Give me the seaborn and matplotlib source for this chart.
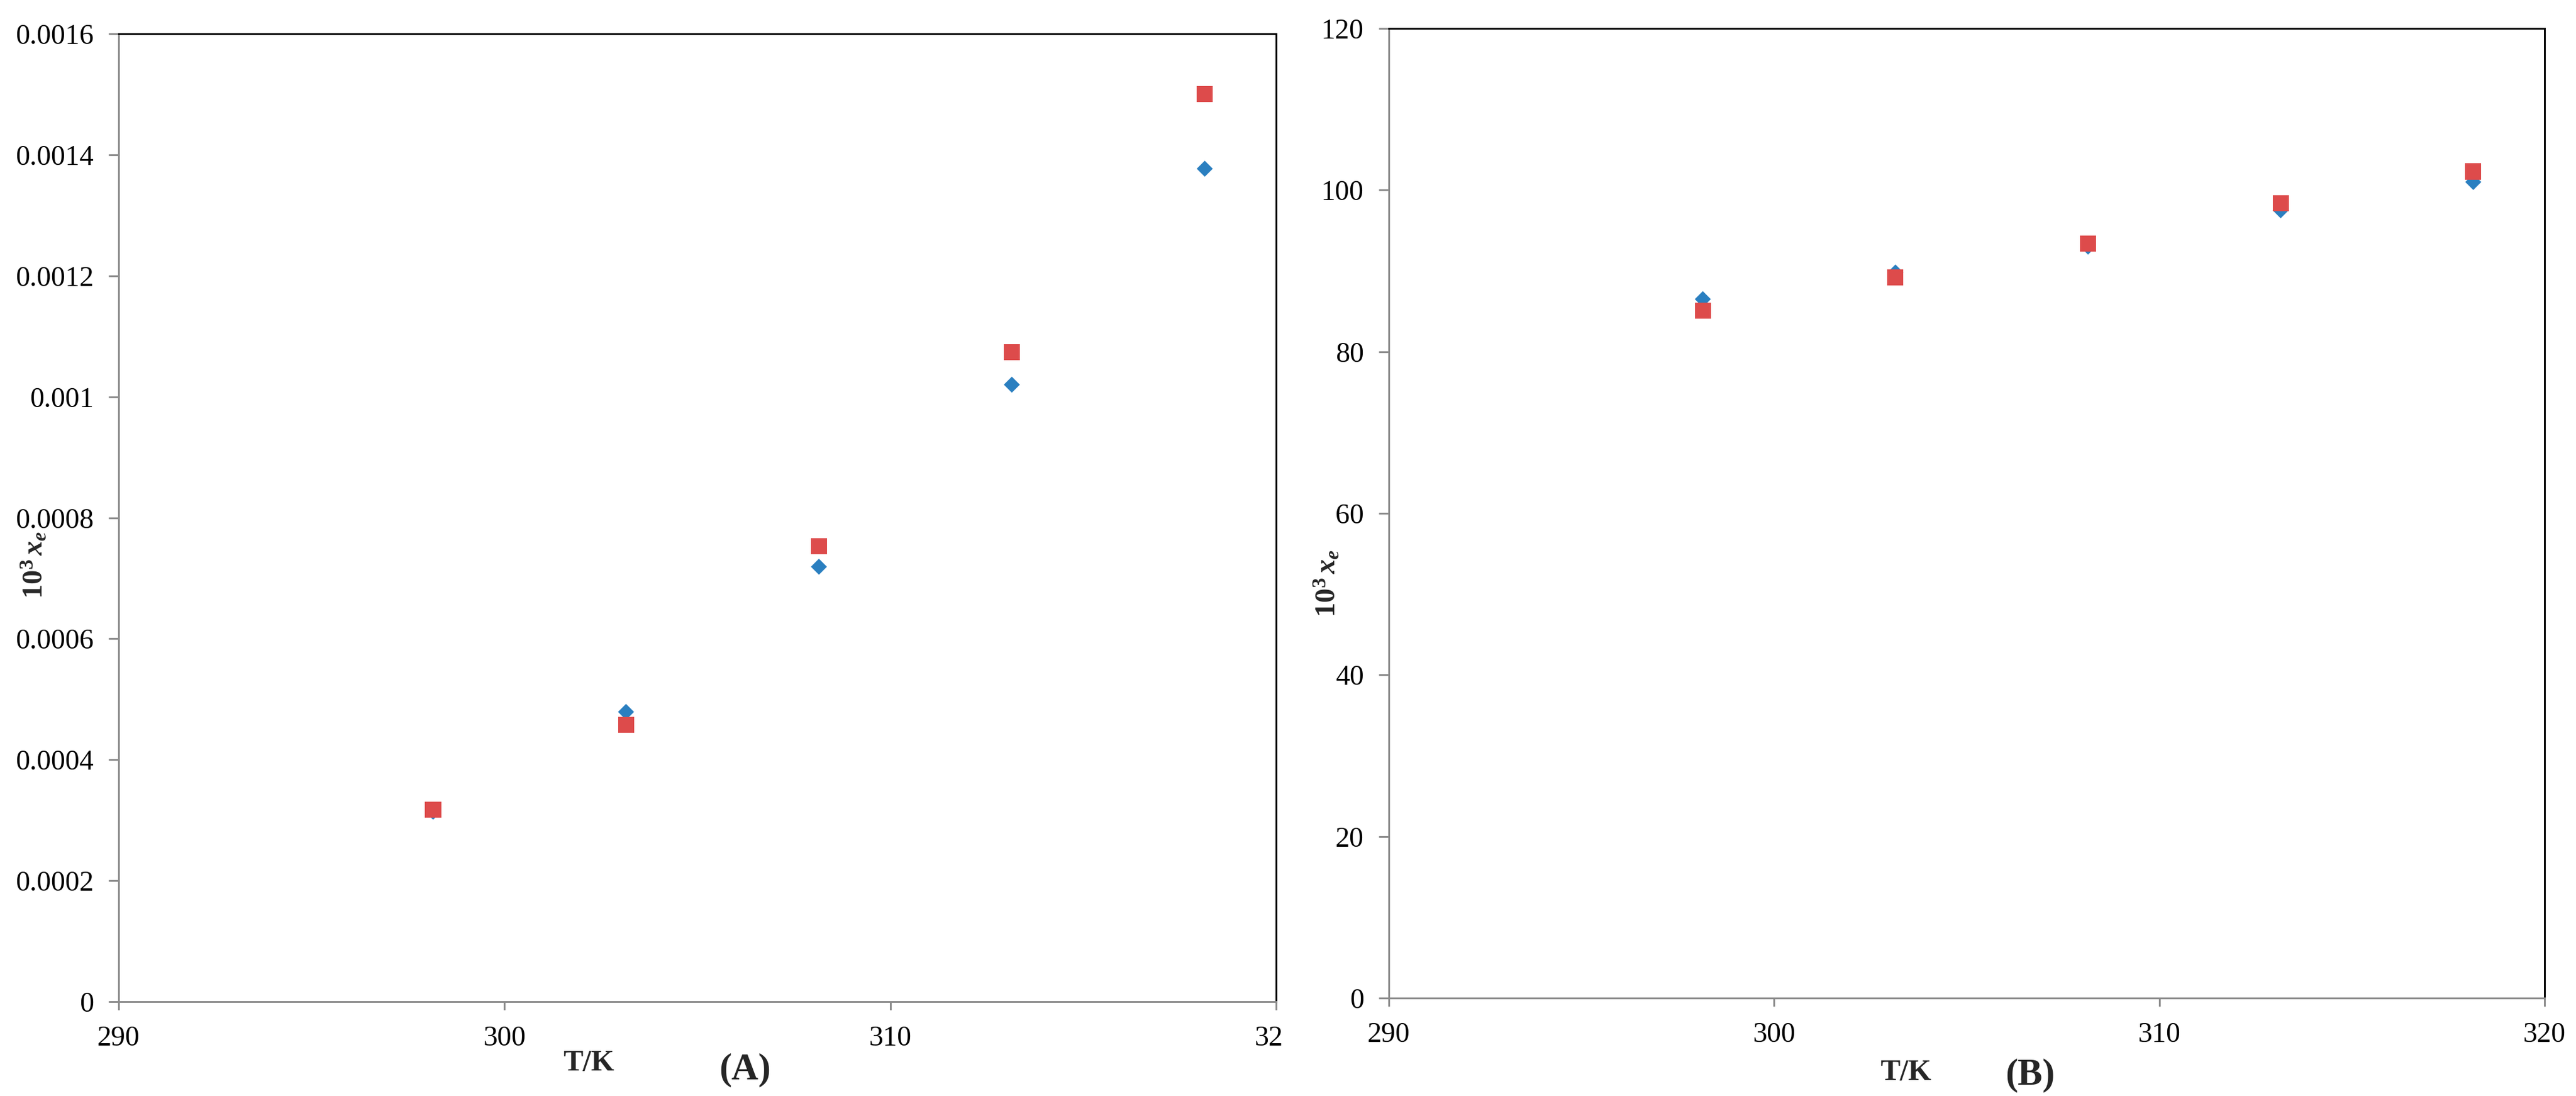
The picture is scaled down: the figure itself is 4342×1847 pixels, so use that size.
import pandas as pd
import matplotlib
matplotlib.use("Agg")
import matplotlib.pyplot as plt
import seaborn as sns
from matplotlib.transforms import Bbox, TransformedBbox

# temperatures (K) shared by both panels
temps = [298.15, 303.15, 308.15, 313.15, 318.15]

# panel (A) values
a_blue = [0.000314, 0.000479, 0.000719, 0.001020, 0.001377]
a_red = [0.000317, 0.000458, 0.000753, 0.001074, 0.001500]

# panel (B) values
b_blue = [86.5, 89.8, 93.0, 97.5, 101.0]
b_red = [85.1, 89.2, 93.4, 98.4, 102.3]

x_ticks = [290, 300, 310, 320]
a_yticks = [0, 0.0002, 0.0004, 0.0006, 0.0008, 0.001, 0.0012, 0.0014, 0.0016]
b_yticks = [0, 20, 40, 60, 80, 100, 120]

BLUE = "#2A7FC0"
RED = "#DD4B4B"
GREY = "#8C8C8C"

sns.set_style("white")
plt.rcParams["font.family"] = ["Liberation Serif", "DejaVu Serif"]
plt.rcParams["mathtext.fontset"] = "custom"
plt.rcParams["mathtext.rm"] = "Liberation Serif:bold"
plt.rcParams["mathtext.bf"] = "Liberation Serif:bold"
plt.rcParams["mathtext.it"] = "Liberation Serif:italic:bold"

W, H = 4342, 1847
fig = plt.figure(figsize=(W / 100, H / 100), dpi=100)


def px_axes(x0, y0, x1, y1):
    return fig.add_axes([x0 / W, 1 - y1 / H, (x1 - x0) / W, (y1 - y0) / H])


ax_a = px_axes(200, 57, 2151, 1688)
ax_b = px_axes(2341, 48, 4289, 1682)


def draw_panel(ax, blue, red, yticks, ylab_xy, xlab_xy, tag, tag_xy):
    df_blue = pd.DataFrame({"T": temps, "val": blue})
    df_red = pd.DataFrame({"T": temps, "val": red})
    sns.scatterplot(data=df_blue, x="T", y="val", marker="D", s=190,
                    color=BLUE, edgecolor="none", ax=ax, zorder=3)
    sns.scatterplot(data=df_red, x="T", y="val", marker="s", s=380,
                    color=RED, edgecolor="none", ax=ax, zorder=4)

    ax.set_xlim(290, 320)
    ax.set_ylim(yticks[0], yticks[-1])
    ax.set_xticks(x_ticks)
    ax.set_xticklabels([str(t) for t in x_ticks])
    ax.set_yticks(yticks)
    ax.set_yticklabels(["{:g}".format(v) for v in yticks])

    ax.tick_params(axis="both", labelsize=34.5, colors=GREY, labelcolor="black",
                   width=2.2, pad=18.5, direction="out")
    ax.tick_params(axis="x", length=10, bottom=True)
    ax.tick_params(axis="y", length=12, left=True)

    for side in ["left", "bottom"]:
        ax.spines[side].set_color(GREY)
        ax.spines[side].set_linewidth(2.2)
    for side in ["top", "right"]:
        ax.spines[side].set_color("black")
        ax.spines[side].set_linewidth(2.2)
    for side in ax.spines:
        ax.spines[side].set_zorder(5)

    ax.set_ylabel(r"$10^{3}\,x_{e}$", fontsize=35)
    ax.yaxis.label.set_va("center")
    ax.yaxis.set_label_coords(*ylab_xy)

    ax.set_xlabel("T/K", fontsize=36, fontweight="bold")
    ax.xaxis.label.set_va("center")
    ax.xaxis.set_label_coords(*xlab_xy)

    ax.text(tag_xy[0], tag_xy[1], tag, transform=ax.transAxes, fontsize=45,
            fontweight="bold", ha="center", va="center")


draw_panel(ax_a, a_blue, a_red, a_yticks, (-0.0728, 0.451), (0.406, -0.0638),
           "(A)", (0.541, -0.0705))
draw_panel(ax_b, b_blue, b_red, b_yticks, (-0.0534, 0.428), (0.447, -0.0771),
           "(B)", (0.555, -0.0796))

# the left picture was cut just after its last tick, so "320" shows as "32"
clip = TransformedBbox(Bbox.from_extents(0, 0, 2161 / W, 1), fig.transFigure)
for lab in ax_a.get_xticklabels():
    lab.set_clip_box(clip)
    lab.set_clip_on(True)

fig.savefig("out.png", dpi=100)
